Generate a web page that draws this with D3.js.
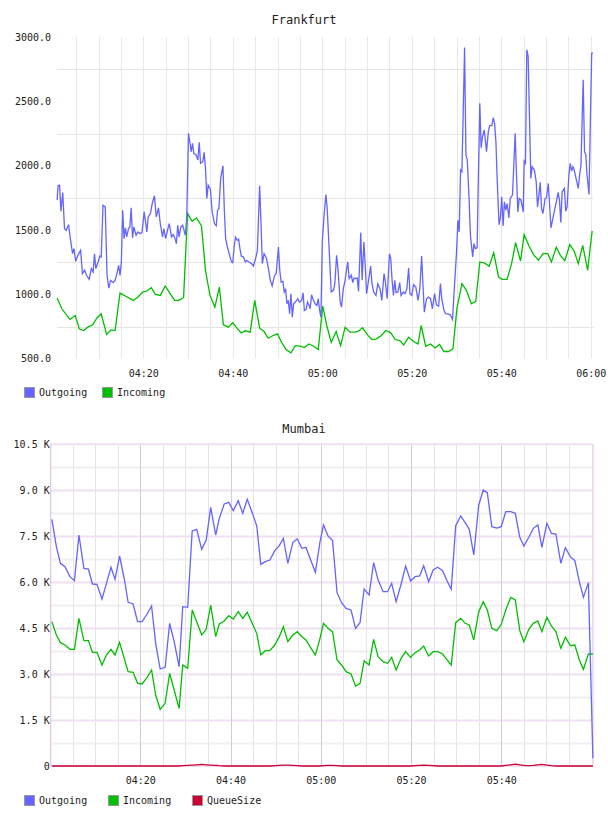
<!DOCTYPE html>
<html>
<head>
<meta charset="utf-8">
<script src="https://cdn.jsdelivr.net/npm/d3@7"></script>
<style>
  body { margin: 0; background: #fff; }
  svg text { font-family: "DejaVu Sans Mono", monospace; fill: #222; }
</style>
</head>
<body>
<svg id="chart" width="608" height="816"></svg>
<script>
// ---- data: [minutes after 04:00, value] ----
var frankfurtOutgoing = [
  [0.75,1732],[0.96,1844],[1.3,1849],[1.6,1646],[2.0,1792],[2.4,1511],[2.8,1498],[3.3,1542],[3.7,1433],[4.2,1316],
  [4.5,1355],[4.9,1257],[5.4,1303],[6.0,1342],[6.4,1161],[6.9,1187],[7.3,1148],[7.9,1117],[8.4,1200],[8.8,1174],
  [9.1,1316],[9.4,1200],[9.9,1252],[10.3,1298],[10.6,1290],[11.0,1693],[11.5,1680],[11.9,1148],[12.3,1049],[12.7,1109],
  [13.3,1091],[13.7,1109],[14.2,1174],[14.5,1226],[14.8,1148],[15.1,1252],[15.4,1654],[15.7,1433],[16.0,1517],[16.3,1446],
  [16.7,1511],[17.0,1524],[17.3,1672],[17.6,1439],[17.9,1524],[18.4,1459],[18.8,1485],[19.3,1472],[19.7,1480],[20.2,1641],
  [20.5,1563],[20.8,1485],[21.1,1602],[21.6,1628],[22.0,1706],[22.5,1766],[22.9,1602],[23.4,1672],[23.8,1550],[24.3,1446],
  [24.6,1511],[25.0,1433],[25.5,1511],[25.8,1550],[26.3,1446],[26.7,1465],[27.1,1433],[27.4,1394],[27.7,1537],[28.0,1446],
  [28.4,1524],[28.8,1537],[29.1,1498],[29.4,1459],[29.7,1589],[30.1,2251],[30.4,2186],[30.7,2108],[31.0,2173],[31.3,2096],
  [31.8,2083],[32.2,2044],[32.5,2181],[32.8,2018],[33.3,2031],[33.6,2103],[33.9,1979],[34.2,1745],[34.5,1849],[35.0,1818],
  [35.4,1641],[35.9,1550],[36.3,1532],[36.6,1654],[36.9,1667],[37.3,1901],[37.8,2000],[38.1,1667],[38.4,1433],[38.8,1368],
  [39.3,1303],[39.7,1252],[40.0,1246],[40.3,1368],[40.6,1446],[41.0,1420],[41.3,1428],[41.6,1355],[41.9,1298],[42.4,1290],
  [42.8,1252],[43.1,1264],[43.6,1252],[44.2,1239],[44.6,1220],[45.1,1278],[45.5,1342],[46.0,1844],[46.3,1563],[46.6,1239],
  [47.0,1316],[47.5,1283],[47.9,1213],[48.4,1109],[48.8,1065],[49.3,1143],[49.7,1161],[50.2,1368],[50.5,1187],[50.8,1096],
  [51.2,1101],[51.5,1018],[51.8,1044],[52.1,927],[52.4,953],[52.7,849],[53.0,1005],[53.3,823],[53.6,927],[54.0,940],
  [54.5,966],[54.9,940],[55.4,953],[55.7,1013],[56.0,875],[56.4,883],[56.7,940],[57.0,919],[57.3,888],[57.6,997],
  [57.9,966],[58.4,927],[58.8,914],[59.1,966],[59.4,875],[59.7,823],[60.0,1407],[60.4,1615],[60.8,1776],[61.1,1667],
  [61.6,1303],[62.0,1018],[62.5,1031],[62.8,1083],[63.2,1303],[63.5,1200],[64.0,940],[64.3,901],[64.7,1044],[65.1,1109],
  [65.4,1187],[65.7,1252],[66.0,1122],[66.5,1148],[66.8,1091],[67.1,1127],[67.5,1122],[67.8,1127],[68.1,1023],[68.6,1480],
  [68.9,1109],[69.3,1407],[69.6,1226],[69.9,1005],[70.4,1122],[70.8,1220],[71.1,1083],[71.5,1018],[72.0,992],[72.4,1083],
  [72.9,1044],[73.3,953],[73.8,1161],[74.1,1096],[74.5,966],[75.0,1316],[75.3,1278],[75.6,1109],[75.9,992],[76.2,1109],
  [76.5,1013],[76.9,1018],[77.3,1091],[77.6,992],[78.1,1018],[78.5,1005],[78.9,1044],[79.3,1205],[79.6,1005],[80.0,992],
  [80.4,1075],[80.9,1057],[81.4,953],[81.8,1044],[82.2,1298],[82.5,1075],[82.8,862],[83.3,966],[83.7,979],[84.2,966],
  [84.6,888],[85.1,1005],[85.5,919],[86.0,909],[86.4,1083],[86.7,966],[87.2,875],[87.6,849],[88.0,849],[88.6,841],
  [89.1,805],[89.5,1044],[90.0,1329],[90.3,1576],[90.6,1485],[90.9,1966],[91.2,1953],[91.5,2433],[91.8,2919],[92.1,2083],
  [92.4,2044],[92.8,1745],[93.1,1459],[93.6,1290],[93.9,1394],[94.2,1355],[94.6,1361],[94.9,1953],[95.2,2485],[95.5,2140],
  [95.8,2225],[96.2,2277],[96.7,2109],[97.1,2264],[97.4,2311],[97.9,2311],[98.2,2373],[98.5,2329],[98.8,2186],[99.1,1875],
  [99.5,1542],[99.8,1594],[100.1,1758],[100.4,1532],[100.7,1719],[101.0,1654],[101.3,1706],[101.7,1594],[102.0,1745],[102.5,1771],
  [102.8,2005],[103.1,2251],[103.4,1927],[103.7,1641],[104.0,1745],[104.4,1732],[104.9,1641],[105.1,2036],[105.4,2018],[105.7,2901],
  [106.0,2849],[106.3,2368],[106.6,1901],[106.9,1992],[107.4,1966],[107.8,1875],[108.1,1680],[108.4,1771],[108.7,1870],[109.0,1667],
  [109.3,1628],[109.8,1745],[110.1,1750],[110.5,1862],[110.8,1693],[111.1,1517],[111.6,1602],[111.9,1654],[112.3,1719],[112.7,1792],
  [113.0,1732],[113.3,1558],[113.6,1797],[114.1,1823],[114.4,1646],[114.7,1680],[115.1,1927],[115.4,2018],[115.7,1958],[116.0,1992],
  [116.3,1966],[116.7,1901],[117.2,1823],[117.5,1927],[117.8,2000],[118.3,2667],[118.6,2109],[118.9,2083],[119.1,1953],[119.6,1776],
  [119.9,2342],[120.2,2875],[120.5,2875]
];
var frankfurtIncoming = [
  [0.75,971],[1.8,888],[3.6,805],[4.8,836],[5.7,732],[6.7,719],[7.6,745],[8.7,763],[9.6,815],[10.6,849],
  [11.8,688],[12.8,724],[13.7,719],[14.8,1010],[16.0,987],[17.8,953],[18.8,979],[19.9,1018],[20.8,1026],[21.8,1052],
  [22.7,1000],[23.8,992],[24.9,1065],[26.0,1005],[27.0,953],[27.9,953],[29.0,974],[29.9,1628],[30.9,1568],[31.9,1594],
  [33.0,1532],[33.9,1187],[34.9,992],[36.0,901],[37.0,1057],[37.9,763],[39.0,745],[40.0,779],[40.9,740],[41.9,701],
  [42.8,717],[43.9,706],[44.9,953],[46.0,737],[47.0,711],[47.9,659],[49.0,680],[50.0,693],[50.9,628],[51.9,571],
  [53.0,545],[54.0,602],[55.1,597],[56.0,587],[57.0,615],[58.1,597],[59.1,571],[60.1,909],[61.0,758],[62.0,628],
  [63.1,711],[64.1,602],[65.1,745],[66.2,706],[67.2,706],[68.1,714],[69.0,740],[70.1,685],[71.1,649],[72.1,654],
  [73.2,680],[74.2,719],[75.3,701],[76.3,649],[77.3,641],[78.2,607],[79.3,667],[80.3,636],[81.4,615],[82.1,758],
  [83.1,597],[84.2,615],[85.2,584],[86.2,610],[87.2,556],[88.2,556],[89.2,576],[90.1,893],[91.2,1083],[92.2,1031],
  [93.3,927],[94.3,945],[95.2,1252],[96.2,1244],[97.3,1218],[98.3,1324],[99.4,1135],[100.2,1117],[101.3,1117],[102.3,1239],
  [103.2,1402],[104.3,1259],[105.1,1464],[106.2,1376],[107.2,1309],[108.3,1265],[109.3,1316],[110.4,1316],[111.2,1252],[112.3,1366],
  [113.2,1303],[114.2,1262],[115.3,1387],[116.3,1335],[117.2,1239],[118.2,1381],[119.3,1187],[120.3,1493]
];

var mumbaiTimes = [
  0.4,1.4,2.3,3.3,4.4,5.4,6.4,7.5,8.5,9.4,10.4,11.5,12.5,13.5,14.4,15.4,16.5,17.3,18.4,19.4,
  20.4,21.5,22.5,23.4,24.4,25.5,26.5,27.5,28.6,29.4,30.5,31.5,32.5,33.6,34.6,35.6,36.7,37.5,38.6,39.6,
  40.6,41.7,42.7,43.7,44.8,45.8,46.7,47.7,48.7,49.8,50.8,51.7,52.7,53.8,54.8,55.8,56.7,57.7,58.8,59.8,
  60.6,61.6,62.6,63.6,64.6,65.6,66.7,67.7,68.7,69.6,70.7,71.7,72.7,73.8,74.8,75.7,76.7,77.8,78.8,79.9,
  80.9,81.9,82.8,83.9,84.9,85.9,87.0,87.9,88.9,89.9,91.0,92.0,92.9,93.9,95.0,96.0,96.9,97.9,99.0,100.0,
  101.0,102.1,103.1,104.1,105.0,106.1,107.1,108.1,109.0,110.1,111.1,112.1,113.2,114.2,115.3,116.3,117.3,118.2,119.3,120.3
];
var mumbaiOutgoing = [
  8051,7159,6615,6506,6180,6049,7540,6452,6430,5940,5930,5451,5962,6485,6093,6854,6071,5342,5288,4711,
  4711,4961,5222,4004,3166,3220,4657,4058,3242,5201,5179,7670,7725,7072,7377,8443,7540,8084,8552,8606,
  8334,8660,8247,8704,8269,7834,6582,6669,6724,7029,7192,7431,6615,7300,7409,7105,7137,6746,6321,7300,
  7866,7507,7355,5658,5331,5146,5092,4493,4678,5777,5581,6637,6071,5690,5690,5962,5364,5940,6528,6038,
  6180,6202,6539,6017,6397,6485,6376,6071,5766,7844,8160,7942,7725,6887,8519,9009,8922,7812,7768,7812,
  8301,8301,8247,7464,7181,7464,7757,7866,7137,7921,7594,7572,6615,7126,6833,6702,6017,5505,5984,250
];
var mumbaiIncoming = [
  4711,4276,4026,3949,3808,3808,4820,4091,4091,3710,3710,3297,3623,3808,3623,4036,3482,3079,3057,2698,
  2676,2894,3133,2317,1850,2045,3025,2481,1882,3297,3188,5092,4711,4276,4461,5255,4221,4635,4733,4907,
  4798,5037,4820,5016,4657,4330,3623,3764,3764,3949,4221,4548,4058,4276,4385,4221,4113,3873,3623,4150,
  4657,4493,4385,3460,3297,3079,3003,2611,2698,3438,3297,4134,3569,3405,3351,3547,3133,3514,3732,3547,
  3699,3786,3917,3590,3732,3732,3656,3482,3297,4678,4820,4657,4602,4113,5037,5364,5092,4493,4417,4624,
  5092,5505,5418,4417,4058,4461,4657,4733,4385,4852,4570,4385,3841,4200,3928,3949,3460,3155,3656,3656
];
var mumbaiQueue = [
  0,0,0,0,0,0,0,0,0,0,0,0,0,0,0,0,0,0,0,0,0,0,0,0,0,0,0,0,0,10,
  20,30,40,50,40,30,20,10,0,0,0,0,0,0,0,0,0,0,0,10,20,30,30,20,10,0,0,0,0,0,
  10,20,20,10,0,0,0,0,0,0,0,0,0,0,0,0,0,0,0,0,10,20,30,20,10,0,0,0,0,0,
  0,0,0,0,0,0,0,0,0,0,20,40,60,40,20,10,20,40,50,30,10,0,0,0,0,0,0,0,0,0
];

var frankfurtYTicks = [500, 1000, 1500, 2000, 2500, 3000];
var frankfurtYGrid = [750, 1250, 1750, 2250, 2750];
var frankfurtXTicks = ["04:20", "04:40", "05:00", "05:20", "05:40", "06:00"];
var mumbaiYTicks = [0, 1500, 3000, 4500, 6000, 7500, 9000, 10500];
var mumbaiXTicks = ["04:20", "04:40", "05:00", "05:20", "05:40"];

// ---- helpers ----
var base = new Date(2000, 0, 1, 4, 0, 0).getTime();
function at(m) { return new Date(base + m * 60000); }
function hm(s) { var p = s.split(":"); return at((+p[0] - 4) * 60 + (+p[1])); }

var svg = d3.select("#chart");
var colors = { out: "#6464ff", inc: "#00bf00", queue: "#cc0033" };

function drawLegend(y, step, items) {
  var g = svg.append("g").attr("transform", "translate(24," + y + ")");
  items.forEach(function(d, i) {
    g.append("rect").attr("x", i * step + 0.5).attr("y", 0.5).attr("width", 10).attr("height", 10)
      .attr("fill", d.color).attr("stroke", "#999");
    g.append("text").attr("x", i * step + 15).attr("y", 5.5).attr("dy", ".35em")
      .style("font-size", "10px").text(d.name);
  });
}

// ---- Frankfurt ----
(function() {
  var left = 57, right = 593.3, top = 37, bottom = 358.7;
  var x = d3.scaleTime().domain([at(0.72), at(120.56)]).range([left, right]);
  var y = d3.scaleLinear().domain([500, 3000]).range([bottom, top]);

  svg.append("text").attr("x", 304).attr("y", 24).attr("text-anchor", "middle")
    .style("font-size", "12px").text("Frankfurt");

  var grid = svg.append("g");
  grid.selectAll(".h").data(frankfurtYGrid).enter().append("line")
    .attr("x1", left).attr("x2", right).attr("y1", d => Math.round(y(d)) + 0.5).attr("y2", d => Math.round(y(d)) + 0.5)
    .attr("stroke", "#e4e4e4");
  var vt = x.ticks(d3.timeMinute.every(5));
  grid.selectAll(".v").data(vt).enter().append("line")
    .attr("x1", d => Math.round(x(d)) + 0.5).attr("x2", d => Math.round(x(d)) + 0.5)
    .attr("y1", top).attr("y2", bottom).attr("stroke", "#e8e8e8");

  var yAxis = d3.axisLeft(y).tickValues(frankfurtYTicks).tickSize(0).tickPadding(6).tickFormat(d3.format(".1f"));
  svg.append("g").attr("transform", "translate(" + (left) + ",0)").call(yAxis)
    .call(g => g.select(".domain").remove())
    .selectAll("text").style("font-size", "10px").attr("fill", "#222");

  var xAxis = d3.axisBottom(x).tickValues(frankfurtXTicks.map(hm)).tickSize(0).tickPadding(11)
    .tickFormat(d3.timeFormat("%H:%M"));
  svg.append("g").attr("transform", "translate(0," + bottom + ")").call(xAxis)
    .call(g => g.select(".domain").remove())
    .selectAll("text").style("font-size", "10px").attr("fill", "#222");

  var line = d3.line().x(d => x(at(d[0]))).y(d => y(d[1]));
  svg.append("path").datum(frankfurtIncoming).attr("d", line).attr("fill", "none")
    .attr("stroke", colors.inc).attr("stroke-width", 1.3);
  svg.append("path").datum(frankfurtOutgoing).attr("d", line).attr("fill", "none")
    .attr("stroke", colors.out).attr("stroke-width", 1.3);

  drawLegend(387, 78, [{ name: "Outgoing", color: colors.out }, { name: "Incoming", color: colors.inc }]);
})();

// ---- Mumbai ----
(function() {
  var left = 50.7, right = 593.3, top = 444.3, bottom = 766;
  var x = d3.scaleTime().domain([at(0.14), at(120.39)]).range([left, right]);
  var y = d3.scaleLinear().domain([0, 10500]).range([bottom, top]);

  svg.append("text").attr("x", 304).attr("y", 433).attr("text-anchor", "middle")
    .style("font-size", "12px").text("Mumbai");

  var grid = svg.append("g");
  grid.selectAll(".h").data(d3.range(750, 10500, 750)).enter().append("line")
    .attr("x1", left).attr("x2", right).attr("y1", d => Math.round(y(d)) + 0.5).attr("y2", d => Math.round(y(d)) + 0.5)
    .attr("stroke", d => d % 1500 === 0 ? "#f0dff0" : "#f0f0f0").attr("stroke-width", 2);
  var vt = x.ticks(d3.timeMinute.every(5));
  grid.selectAll(".v").data(vt).enter().append("line")
    .attr("x1", d => Math.round(x(d)) + 0.5).attr("x2", d => Math.round(x(d)) + 0.5)
    .attr("y1", top).attr("y2", bottom)
    .attr("stroke", d => d.getMinutes() % 20 === 0 ? "#dcc6dc" : "#eae2ea");
  // frame
  grid.append("line").attr("x1", left).attr("x2", right).attr("y1", top).attr("y2", top)
    .attr("stroke", "#f0dff0").attr("stroke-width", 2);
  grid.append("line").attr("x1", right).attr("x2", right).attr("y1", top).attr("y2", bottom)
    .attr("stroke", "#f0e4f0").attr("stroke-width", 2);
  grid.append("line").attr("x1", left).attr("x2", left).attr("y1", top).attr("y2", bottom)
    .attr("stroke", "#dcc6dc").attr("stroke-width", 1.2);
  grid.append("line").attr("x1", left).attr("x2", right).attr("y1", bottom).attr("y2", bottom)
    .attr("stroke", "#f0dff0").attr("stroke-width", 2);

  var yAxis = d3.axisLeft(y).tickValues(mumbaiYTicks).tickSize(0).tickPadding(1)
    .tickFormat(d => d === 0 ? "0" : (d / 1000).toFixed(1) + " K");
  svg.append("g").attr("transform", "translate(" + left + ",0)").call(yAxis)
    .call(g => g.select(".domain").remove())
    .selectAll("text").style("font-size", "10px").attr("fill", "#222");

  var xAxis = d3.axisBottom(x).tickValues(mumbaiXTicks.map(hm)).tickSize(0).tickPadding(11)
    .tickFormat(d3.timeFormat("%H:%M"));
  svg.append("g").attr("transform", "translate(0," + bottom + ")").call(xAxis)
    .call(g => g.select(".domain").remove())
    .selectAll("text").style("font-size", "10px").attr("fill", "#222");

  var line = d3.line().x(d => x(at(d[0]))).y(d => y(d[1]));
  var series = [
    { v: mumbaiIncoming, c: colors.inc },
    { v: mumbaiOutgoing, c: colors.out },
    { v: mumbaiQueue, c: colors.queue }
  ];
  series.forEach(function(s) {
    svg.append("path").datum(mumbaiTimes.map((t, i) => [t, s.v[i]])).attr("d", line)
      .attr("fill", "none").attr("stroke", s.c).attr("stroke-width", 1.3);
  });

  drawLegend(795, 84, [{ name: "Outgoing", color: colors.out }, { name: "Incoming", color: colors.inc },
    { name: "QueueSize", color: colors.queue }]);
})();
</script>
</body>
</html>
